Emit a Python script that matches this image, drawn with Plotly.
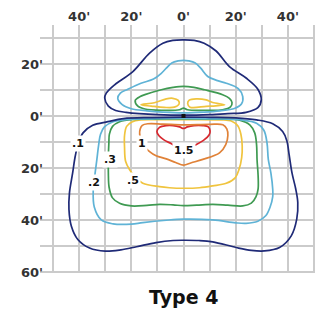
import plotly.graph_objects as go

# Isofootcandle contour traces (feet; x = lateral, y = + toward house side / - toward street)
up01_x = [0, -10, -17, -22, -26, -28.8, -30.2, -29.6, -26.4, -19.4, -13.0, -7.9, -4.1, 0, 4.1, 7.9, 12.5, 17.6, 24.0, 28.5, 29.8, 28.5, 24.0, 17.0, 10.0, 0]
up01_y = [0.3, 0.5, 0.9, 1.4, 2.1, 3.8, 6.9, 8.8, 12.0, 17.1, 24.2, 28.0, 29.1, 29.3, 29.1, 28.0, 25.0, 19.0, 14.6, 10.3, 6.2, 3.2, 1.4, 0.9, 0.5, 0.3]

up02_x = [0, -8, -14, -20, -23.5, -25.2, -24.2, -21.5, -16.3, -11.5, -8.5, -6.6, -4.5, -2.0, 0, 2.0, 4.5, 6.6, 9.3, 13.0, 16.4, 21.0, 22.7, 22.2, 19.5, 14, 8, 0]
up02_y = [1.2, 1.5, 2.0, 2.8, 4.4, 6.8, 8.8, 10.2, 12.6, 14.2, 16.4, 18.4, 20.4, 21.2, 21.4, 21.2, 20.4, 18.4, 15.2, 13.6, 12.6, 10.5, 7.5, 4.6, 2.9, 2.0, 1.5, 1.2]

up03_x = [0, -1.5, -8, -14.8, -17.6, -18.5, -16.6, -14.8, -8.5, -4.0, 0, 4.0, 8.0, 15.0, 17.6, 18.6, 18.0, 15.0, 8.0, 1.5, 0]
up03_y = [3.0, 2.4, 2.2, 2.7, 3.9, 6.0, 7.5, 8.2, 10.1, 11.0, 11.4, 11.0, 10.1, 8.2, 6.8, 5.2, 3.5, 2.4, 2.2, 2.4, 3.0]

up05a_x = [-16.3, -11.2, -6.6, -4.1, -2.0, -1.7, -3.5, -7.4, -12.4, -16.3]
up05a_y = [4.3, 5.1, 6.6, 6.8, 6.0, 4.6, 3.4, 3.3, 3.8, 4.3]
up05b_x = [15.8, 11.2, 8.7, 4.9, 2.2, 1.6, 2.5, 8.7, 12.4, 15.8]
up05b_y = [4.3, 5.2, 6.2, 6.6, 6.1, 4.8, 3.4, 3.7, 3.9, 4.3]

lo01_x = [0, -12, -23, -29, -34.8, -38.5, -40.3, -41.5, -42.5, -43.7, -43.9, -43.0, -40.5, -36.0, -30.0, -24.0, -18.0, -10.5, -4.0, 0, 6.0, 11.2, 20.2, 26.0, 31.0, 36.8, 41.3, 43.4, 43.8, 43.0, 41.6, 40.5, 39.6, 38.0, 34.2, 28.0, 20.0, 10.0, 0]
lo01_y = [-0.4, -0.6, -1.0, -2.2, -3.6, -6.5, -10.5, -15.5, -22.0, -29.5, -36.0, -42.3, -47.5, -50.8, -52.0, -51.5, -50.3, -48.7, -47.9, -47.8, -47.9, -48.4, -50.6, -51.7, -51.9, -50.6, -46.1, -39.7, -33.3, -28.0, -22.0, -15.0, -9.5, -6.0, -3.0, -1.5, -0.7, -0.5, -0.4]

lo02_x = [0, -12, -22, -27, -30.3, -31.8, -32.5, -33.2, -34.0, -34.6, -34.2, -31.5, -27.0, -20.0, -15.6, -6.6, 0, 11.2, 20.0, 24.0, 28.5, 31.5, 33.2, 34.2, 34.2, 33.5, 32.5, 32.0, 30.8, 28.0, 22.0, 12.0, 0]
lo02_y = [-0.9, -1.1, -1.4, -2.2, -4.2, -7.0, -11.0, -16.7, -23.0, -28.5, -35.0, -40.0, -41.5, -41.6, -41.0, -40.1, -39.7, -40.0, -41.1, -41.3, -40.5, -38.4, -35.0, -31.0, -28.2, -22.0, -16.7, -10.3, -5.5, -2.8, -1.5, -1.1, -0.9]

lo03_x = [0, -12, -19.4, -24.5, -27.2, -28.4, -28.6, -28.8, -28.8, -28.5, -27.2, -24.5, -20.0, -14.0, -9.2, -4.0, 0, 5.0, 11.2, 17.0, 22.7, 26.0, 27.8, 28.6, 28.6, 28.2, 28.0, 27.3, 25.5, 21.5, 12.0, 0]
lo03_y = [-1.1, -1.2, -1.3, -2.2, -4.0, -7.0, -10.3, -15.5, -21.8, -27.5, -31.5, -33.6, -34.6, -34.4, -34.0, -34.2, -34.5, -34.3, -34.0, -34.3, -34.6, -33.5, -31.0, -28.0, -23.0, -17.0, -11.0, -6.5, -3.5, -1.6, -1.2, -1.1]

lo05_x = [0, -10, -16.5, -19.8, -21.8, -22.6, -22.6, -22.2, -20.7, -18.5, -15.6, -9.2, -5.4, 0, 6.1, 11.2, 16.4, 19.8, 21.3, 22.3, 22.5, 22.0, 20.8, 18.5, 14.0, 0]
lo05_y = [-1.4, -1.4, -1.5, -2.3, -4.0, -7.5, -12.0, -17.4, -20.6, -23.5, -25.9, -27.2, -27.6, -27.8, -27.6, -26.9, -25.9, -23.8, -20.5, -16.0, -11.5, -7.0, -3.8, -2.0, -1.5, -1.4]

lo10_x = [0, -8, -13.7, -15.8, -16.6, -16.8, -15.8, -13.0, -10.5, -6.6, -3.0, 0, 3.0, 7.4, 13.8, 16.2, 17.0, 16.6, 15.1, 10.0, 0]
lo10_y = [-3.4, -3.1, -3.0, -3.6, -5.0, -7.0, -10.6, -13.7, -15.3, -16.5, -17.9, -18.9, -18.0, -16.7, -14.2, -11.0, -7.5, -5.0, -3.4, -3.2, -3.4]

lo15_x = [0, -1.5, -4.0, -6.6, -9.2, -10.2, -9.4, -7.5, -4.8, -2.8, 0, 2.9, 4.9, 8.0, 9.8, 10.2, 9.5, 7.4, 4.0, 1.5, 0]
lo15_y = [-4.8, -4.2, -3.7, -3.7, -4.4, -6.0, -7.6, -9.2, -10.6, -11.8, -12.7, -12.0, -11.0, -9.1, -7.3, -5.8, -4.2, -3.7, -3.7, -4.2, -4.8]

contour_colors = {"0.1": "#1f2a77", "0.2": "#5fb3d6", "0.3": "#3f9a52", "0.5": "#f0c43e", "1": "#e08238", "1.5": "#d7282f"}

label_text = [".1", "1", "1.5", ".3", ".2", ".5"]
label_x = [-40.3, -15.8, 0.3, -28.0, -34.4, -19.4]
label_y = [-10.6, -10.6, -13.2, -16.7, -25.7, -25.0]

x_tickvals = [-40, -20, 0, 20, 40]
x_ticktext = ["40'", "20'", "0'", "20'", "40'"]
y_tickvals = [20, 0, -20, -40, -60]
y_ticktext = ["20'", "0'", "20'", "40'", "60'"]

fig = go.Figure()

traces = [
    (lo15_x, lo15_y, "1.5"), (lo10_x, lo10_y, "1"), (lo05_x, lo05_y, "0.5"),
    (up05a_x, up05a_y, "0.5"), (up05b_x, up05b_y, "0.5"),
    (lo03_x, lo03_y, "0.3"), (up03_x, up03_y, "0.3"),
    (lo02_x, lo02_y, "0.2"), (up02_x, up02_y, "0.2"),
    (lo01_x, lo01_y, "0.1"), (up01_x, up01_y, "0.1"),
]
for xs, ys, lev in traces:
    fig.add_trace(go.Scatter(x=xs, y=ys, mode="lines",
                             line=dict(color=contour_colors[lev], width=1.7, shape="spline", smoothing=1.0),
                             hoverinfo="skip", showlegend=False))

fig.add_trace(go.Scatter(x=[0], y=[0], mode="markers",
                         marker=dict(symbol="square", size=4, color="#111111"),
                         hoverinfo="skip", showlegend=False))

for t, x, y in zip(label_text, label_x, label_y):
    fig.add_annotation(x=x, y=y, text=t, showarrow=False, bgcolor="white", borderpad=1,
                       font=dict(family="DejaVu Sans", size=11, color="#111111", weight="bold"))

fig.add_annotation(x=0, xref="x", y=-0.095, yref="paper", text="Type 4", showarrow=False,
                   yanchor="middle", font=dict(family="DejaVu Sans", size=19, color="#111111", weight="bold"))

grid_col = "#cbcbcb"
fig.update_xaxes(range=[-55, 50.4], side="top", tickvals=x_tickvals, ticktext=x_ticktext,
                 showgrid=True, gridcolor=grid_col, gridwidth=1.8, zeroline=False, showline=False,
                 ticks="", ticklabelstandoff=0, automargin=False,
                 tickfont=dict(family="DejaVu Sans", size=13, color="#333333", weight="bold"),
                 minor=dict(dtick=10, tick0=0, showgrid=True, gridcolor=grid_col, gridwidth=1.8))
fig.update_yaxes(range=[-60.4, 35], tickvals=y_tickvals, ticktext=y_ticktext,
                 showgrid=True, gridcolor=grid_col, gridwidth=1.8, zeroline=False, showline=False,
                 ticks="", ticklabelstandoff=-4, automargin=False,
                 tickfont=dict(family="DejaVu Sans", size=13, color="#333333", weight="bold"),
                 minor=dict(dtick=10, tick0=0, showgrid=True, gridcolor=grid_col, gridwidth=1.8))

fig.update_layout(width=321, height=311, autosize=False, template="none",
                  margin=dict(l=40, r=6, t=25, b=38),
                  plot_bgcolor="white", paper_bgcolor="white")

fig.write_html("out.html", config={"displayModeBar": False},
               post_script="document.body.style.margin='0';")
